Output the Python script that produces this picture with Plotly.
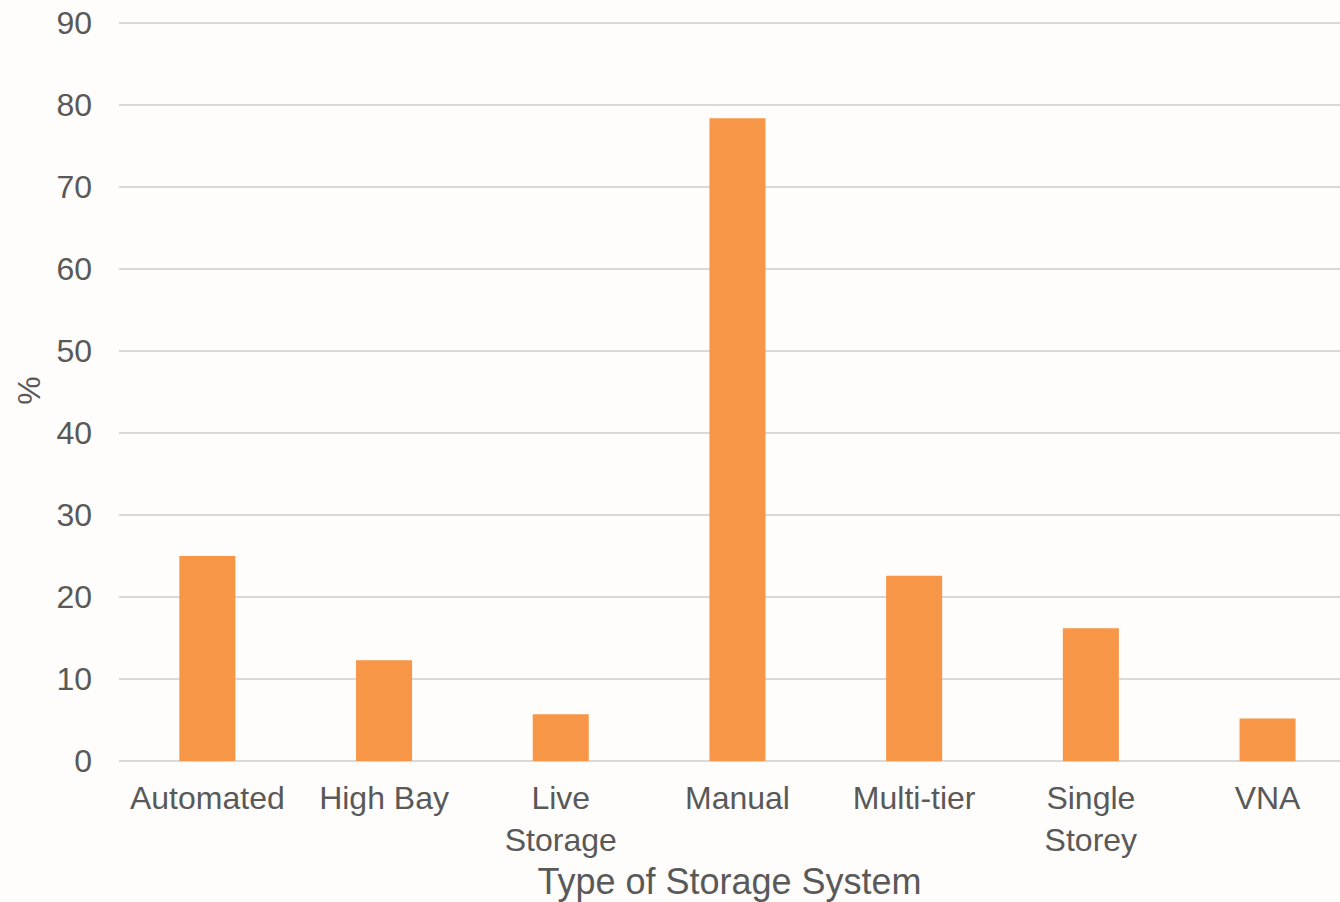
import plotly.graph_objects as go

categories = ["Automated", "High Bay", "Live<br>Storage", "Manual", "Multi-tier", "Single<br>Storey", "VNA"]
values = [25.0, 12.3, 5.7, 78.4, 22.6, 16.2, 5.2]
y_ticks = [0, 10, 20, 30, 40, 50, 60, 70, 80, 90]

FONT = "Liberation Sans, Arial, sans-serif"
TXT = "#595959"
BG = "#FFFDFB"

fig = go.Figure(
    go.Bar(
        x=categories,
        y=values,
        marker=dict(color="#F79646", line=dict(width=0)),
        width=0.317,
    )
)

fig.update_layout(
    width=1340,
    height=902,
    paper_bgcolor=BG,
    plot_bgcolor=BG,
    margin=dict(l=119, r=0, t=20, b=141),
    showlegend=False,
    font=dict(family=FONT, color=TXT, size=32),
)

fig.update_xaxes(
    type="category",
    range=[-0.5, 6.41],
    showgrid=False,
    showline=False,
    zeroline=False,
    ticks="",
    tickfont=dict(family=FONT, size=32, color=TXT),
    ticklabelstandoff=15,
    title=dict(text="Type of Storage System", font=dict(family=FONT, size=36, color=TXT), standoff=12),
)

fig.update_yaxes(
    range=[0, 90.4],
    tickvals=y_ticks,
    showgrid=True,
    gridcolor="#D9D9D9",
    gridwidth=2,
    zeroline=True,
    zerolinecolor="#D9D9D9",
    zerolinewidth=2,
    showline=False,
    ticks="",
    tickfont=dict(family=FONT, size=32, color=TXT),
    ticklabelstandoff=26,
    title=dict(text="%", font=dict(family=FONT, size=32, color=TXT), standoff=6),
)

fig.write_html(
    "out.html",
    config={"displayModeBar": False},
    post_script="document.body.style.margin='0';document.body.style.padding='0';document.body.style.background='#FFFDFB';",
)
